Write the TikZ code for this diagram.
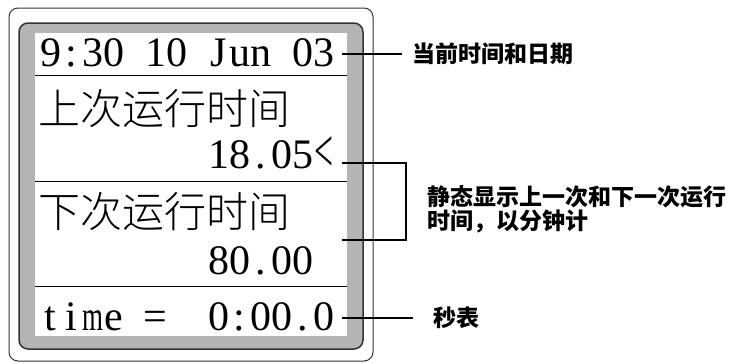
\documentclass[tikz,border=0pt]{standalone}
\usepackage{fontspec}
\usepackage{graphicx}
\setmainfont{Liberation Serif}
\newfontfamily\cjk{Noto Sans CJK SC}
\newfontfamily\cjklight{Noto Sans CJK SC}[UprightFont=* Light]
\newcommand\mc[1]{\makebox[0.5em][c]{#1}}
\newcommand\mmc{\mc{\scalebox{0.64}[1]{m}}}
\definecolor{panelgray}{HTML}{B4B4B4}
\definecolor{edgegray}{HTML}{333333}
\begin{document}
\begin{tikzpicture}[x=1pt,y=-1pt,
  lcd/.style={inner sep=0pt,anchor=base west,font=\fontsize{42}{42}\selectfont},
  lcdcjk/.style={inner sep=0pt,anchor=base west,font=\fontsize{42}{42}\selectfont\cjklight},
  note/.style={inner sep=0pt,anchor=west,align=left,font=\fontsize{23}{24}\selectfont\cjk\bfseries},
  sep/.style={line width=1pt},
  callout/.style={line width=2pt}]
\useasboundingbox (0,0) rectangle (740,364);
% frames
\draw[edgegray,line width=1pt,rounded corners=9pt] (9,8) rectangle (373,361);
\draw[edgegray,fill=panelgray,line width=1.5pt,rounded corners=9pt] (19,23) rectangle (363,349);
\fill[white] (35,33) rectangle (347,336);
% separators
\draw[sep] (35,75) -- (347,75);
\draw[sep] (35,181) -- (347,181);
\draw[sep] (35,286) -- (347,286);
% texts
\node[lcd] (t1) at (40,66) {\mc{9}\mc{:}\mc{3}\mc{0}\mc{ }\mc{1}\mc{0}\mc{ }\mc{J}\mc{u}\mc{n}\mc{ }\mc{0}\mc{3}};
\node[lcdcjk] (t2) at (38,124) {上次运行时间};
\node[lcd] (t3) at (208,168) {\mc{1}\mc{8}\mc{.}\mc{0}\mc{5}\mc{\raisebox{-3pt}{\scalebox{0.8}[1.45]{<}}}};
\node[lcdcjk] (t4) at (38,227) {下次运行时间};
\node[lcd] (t5) at (208,274) {\mc{8}\mc{0}\mc{.}\mc{0}\mc{0}};
\node[lcd] (t6) at (40,330) {\mc{t}\mc{i}\mmc\mc{e}\mc{ }\mc{=}\mc{ }\mc{ }\mc{0}\mc{:}\mc{0}\mc{0}\mc{.}\mc{0}};
% annotations
\node[note] (n1) at (412,54) {当前时间和日期};
\node[note] (n2) at (427,209) {静态显示上一次和下一次运行\\时间，以分钟计};
\node[note] (n3) at (433,318) {秒表};
\coordinate (p1) at (342,54);
\coordinate (b1) at (342,163);
\coordinate (b2) at (342,240);
\coordinate (p3) at (342,318);
\draw[callout] (p1) -- ([xshift=-10pt]n1.west);
\draw[callout] (b1) -- ([xshift=-21pt]n2.west |- b1) |- (b2);
\draw[callout] (p3) -- ([xshift=-20pt]n3.west);
\end{tikzpicture}
\end{document}
